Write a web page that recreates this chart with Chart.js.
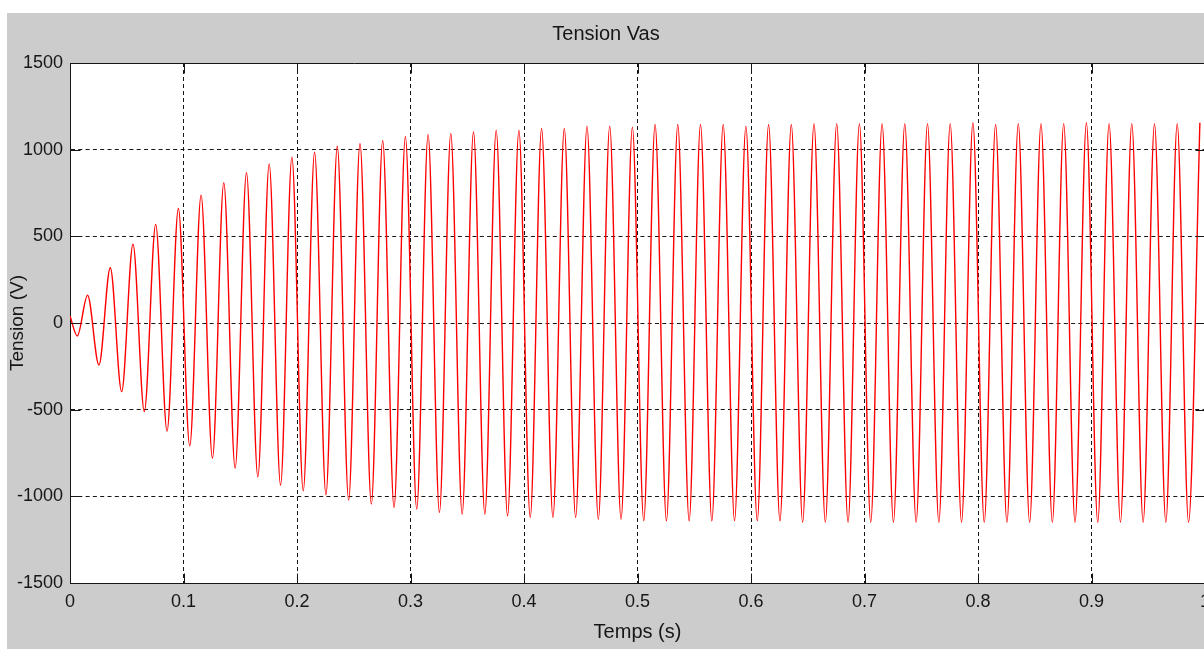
<!DOCTYPE html>
<html>
<head>
    <title>Tension Vas</title>
    <style>
        body { margin: 0; background: #fff; overflow: hidden; }
        .panel {
            position: absolute; left: 7px; top: 13px;
            width: 1197px; height: 636px;
            background: #cccccc; overflow: hidden;
        }
        .box { position: relative; width: 1215px; height: 636px; }
    </style>
    <script src="https://cdn.jsdelivr.net/npm/chart.js"></script>
</head>
<body>
<div class="panel"><div class="box"><canvas id="myChart"></canvas></div></div>
<script>
    // valeurs : debut, maxima et minima de Vas
    var startTimes = [0];
    var startVolts = [40];

    var peakTimes = [0.0155, 0.0355, 0.0555, 0.0755, 0.0955, 0.1155, 0.1355, 0.1555, 0.1755, 0.1955,
                     0.2155, 0.2355, 0.2555, 0.2755, 0.2955, 0.3155, 0.3355, 0.3555, 0.3755, 0.3955,
                     0.4155, 0.4355, 0.4555, 0.4755, 0.4955, 0.5155, 0.5355, 0.5555, 0.5755, 0.5955,
                     0.6155, 0.6355, 0.6555, 0.6755, 0.6955, 0.7155, 0.7355, 0.7555, 0.7755, 0.7955,
                     0.8155, 0.8355, 0.8555, 0.8755, 0.8955, 0.9155, 0.9355, 0.9555, 0.9755, 0.9955];
    var peakVolts = [160, 319, 454, 569, 661, 738, 809, 867, 918, 957,
                     986, 1020, 1036, 1053, 1076, 1088, 1094, 1103, 1113, 1113,
                     1122, 1122, 1136, 1136, 1130, 1145, 1145, 1145, 1145, 1136,
                     1145, 1145, 1150, 1150, 1150, 1150, 1150, 1150, 1150, 1155,
                     1145, 1150, 1150, 1150, 1155, 1150, 1150, 1150, 1150, 1155];

    var troughTimes = [0.0064, 0.0255, 0.0455, 0.0655, 0.0855, 0.1055, 0.1255, 0.1455, 0.1655, 0.1855,
                       0.2055, 0.2255, 0.2455, 0.2655, 0.2855, 0.3055, 0.3255, 0.3455, 0.3655, 0.3855,
                       0.4055, 0.4255, 0.4455, 0.4655, 0.4855, 0.5055, 0.5255, 0.5455, 0.5655, 0.5855,
                       0.6055, 0.6255, 0.6455, 0.6655, 0.6855, 0.7055, 0.7255, 0.7455, 0.7655, 0.7855,
                       0.8055, 0.8255, 0.8455, 0.8655, 0.8855, 0.9055, 0.9255, 0.9455, 0.9655, 0.9855];
    var troughVolts = [-75, -242, -396, -511, -623, -709, -780, -838, -888, -936,
                       -968, -991, -1022, -1045, -1065, -1074, -1093, -1103, -1103, -1113,
                       -1122, -1122, -1122, -1132, -1132, -1141, -1141, -1141, -1141, -1141,
                       -1141, -1141, -1150, -1150, -1150, -1150, -1150, -1150, -1150, -1150,
                       -1150, -1150, -1150, -1150, -1150, -1150, -1150, -1150, -1150, -1150];

    var xTicks = [0, 0.1, 0.2, 0.3, 0.4, 0.5, 0.6, 0.7, 0.8, 0.9, 1];
    var yTicks = [-1500, -1000, -500, 0, 500, 1000, 1500];

    var points = [];
    startTimes.forEach((t, i) => points.push({ x: t, y: startVolts[i] }));
    peakTimes.forEach((t, i) => points.push({ x: t, y: peakVolts[i] }));
    troughTimes.forEach((t, i) => points.push({ x: t, y: troughVolts[i] }));
    points.sort((a, b) => a.x - b.x);

    var ink = '#161616';
    Chart.defaults.font.family = '"Liberation Sans", Arial, sans-serif';
    Chart.defaults.color = ink;

    // fond blanc, cadre complet et petites graduations vers l'interieur (style MATLAB)
    var cadre = {
        id: 'cadre',
        beforeDraw(chart) {
            var a = chart.chartArea, ctx = chart.ctx;
            ctx.save();
            ctx.fillStyle = '#ffffff';
            ctx.fillRect(a.left, a.top, a.right - a.left, a.bottom - a.top);
            ctx.restore();
        },
        afterDraw(chart) {
            var a = chart.chartArea, ctx = chart.ctx;
            var x = chart.scales.x, y = chart.scales.y;
            var L = 10;
            ctx.save();
            ctx.strokeStyle = ink;
            ctx.lineWidth = 1;
            ctx.beginPath();
            var top = Math.round(a.top) + 0.5, bot = Math.round(a.bottom) + 0.5;
            var lft = Math.round(a.left) + 0.5, rgt = Math.round(a.right) + 0.5;
            ctx.moveTo(lft, top); ctx.lineTo(rgt, top); ctx.lineTo(rgt, bot);
            xTicks.forEach(v => {
                var px = Math.round(x.getPixelForValue(v)) + 0.5;
                ctx.moveTo(px, bot); ctx.lineTo(px, bot - L);
                ctx.moveTo(px, top); ctx.lineTo(px, top + L);
            });
            yTicks.forEach(v => {
                var py = Math.round(y.getPixelForValue(v)) + 0.5;
                ctx.moveTo(lft, py); ctx.lineTo(lft + L, py);
                ctx.moveTo(rgt, py); ctx.lineTo(rgt - L, py);
            });
            ctx.stroke();
            ctx.restore();
        }
    };

    var ctx = document.getElementById('myChart').getContext('2d');
    var myChart = new Chart(ctx, {
        type: 'line',
        data: {
            datasets: [{
                label: 'Vas',
                data: points,
                borderColor: '#ff0000',
                borderWidth: 1.4,
                pointRadius: 0,
                fill: false,
                cubicInterpolationMode: 'monotone'
            }]
        },
        options: {
            responsive: true,
            maintainAspectRatio: false,
            animation: false,
            events: [],
            layout: { padding: { left: 0, right: 17, top: 0, bottom: 0 } },
            plugins: {
                legend: { display: false },
                tooltip: { enabled: false },
                title: {
                    display: true,
                    text: 'Tension Vas',
                    color: ink,
                    font: { size: 20, weight: 'normal' },
                    padding: { top: 9, bottom: 17 }
                }
            },
            scales: {
                x: {
                    type: 'linear',
                    min: 0,
                    max: 1,
                    z: 1,
                    afterFit: s => { s.height = 66; },
                    afterBuildTicks: s => { s.ticks = xTicks.map(v => ({ value: v })); },
                    ticks: {
                        padding: 8,
                        maxRotation: 0,
                        autoSkip: false,
                        font: { size: 18 },
                        callback: v => String(Number(v.toFixed(1)))
                    },
                    grid: { color: ink, lineWidth: 1, drawTicks: false },
                    border: { display: true, color: ink, width: 1, dash: [4, 3] },
                    title: {
                        display: true,
                        text: 'Temps (s)',
                        color: ink,
                        font: { size: 20 },
                        padding: { top: 0, bottom: 5 }
                    }
                },
                y: {
                    min: -1500,
                    max: 1500,
                    z: 1,
                    afterFit: s => { s.width = 63; },
                    afterBuildTicks: s => { s.ticks = yTicks.map(v => ({ value: v })); },
                    ticks: {
                        padding: 7,
                        autoSkip: false,
                        font: { size: 18 },
                        callback: v => String(v)
                    },
                    grid: { color: ink, lineWidth: 1, drawTicks: false },
                    border: { display: true, color: ink, width: 1, dash: [4, 3.3] },
                    title: {
                        display: true,
                        text: 'Tension (V)',
                        color: ink,
                        font: { size: 19, lineHeight: 1.0 },
                        padding: { top: 1, bottom: 0 }
                    }
                }
            }
        },
        plugins: [cadre]
    });
</script>
</body>
</html>
